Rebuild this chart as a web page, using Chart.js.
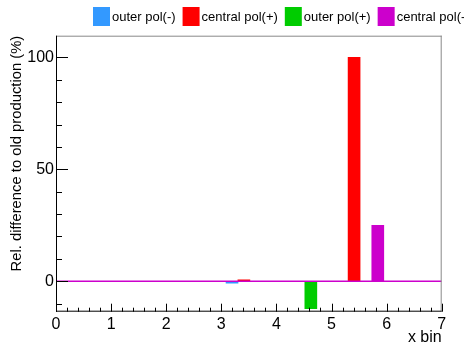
<!DOCTYPE html>
<html>
<head>
<meta charset="utf-8">
<script src="https://cdn.jsdelivr.net/npm/chart.js@4/dist/chart.umd.min.js"></script>
<style>
  html, body { margin: 0; padding: 0; background: #fff; }
  #wrap { width: 464px; height: 347px; }
</style>
</head>
<body>
<div id="wrap"><canvas id="relChart"></canvas></div>
<script>
// bins (lower edges) and relative differences in %
const bins = [0, 1, 2, 3, 4, 5, 6];
const outerMinus   = [0, 0, 0, -0.8, 0, 0, 0];
const centralPlus  = [0, 0, 0, 0.6, 0, 100, 0];
const outerPlus    = [0, 0, 0, 0, -12.3, 0, 0];
const centralMinus = [0, 0, 0, 0, 0, 25, 0];
const seriesLabels = ["outer pol(-)", "central pol(+)", "outer pol(+)", "central pol(-)"];
const seriesColors = ["#3399ff", "#ff0000", "#00cc00", "#cc00cc"];
const xRange = [0, 7];
const yRange = [-13.6, 109.7];

const FONT = "'Liberation Sans', Arial, sans-serif";

function barSet(i, values) {
    return {
        type: "bar",
        label: seriesLabels[i],
        data: bins.map((b, k) => ({ x: b + 0.195 + 0.215 * i, y: values[k] })),
        backgroundColor: seriesColors[i],
        borderWidth: 0,
        barThickness: 12,
        grouped: false
    };
}

// ROOT style inner ticks, frame and legend
const rootStyle = {
    id: "rootStyle",
    afterDatasetsDraw(chart) {
        const { ctx, chartArea: a, scales: { x, y } } = chart;
        ctx.save();
        ctx.strokeStyle = "#000";
        ctx.lineWidth = 1;
        ctx.beginPath();
        x.ticks.forEach(t => {
            const px = Math.round(x.getPixelForValue(t.value)) + 0.5;
            const major = Math.abs(t.value - Math.round(t.value)) < 1e-6;
            ctx.moveTo(px, a.bottom);
            ctx.lineTo(px, a.bottom - (major ? 8 : 4));
        });
        y.ticks.forEach(t => {
            const py = Math.round(y.getPixelForValue(t.value)) + 0.5;
            const major = Math.abs(t.value % 50) < 1e-6;
            ctx.moveTo(a.left, py);
            ctx.lineTo(a.left + (major ? 12 : 6), py);
        });
        ctx.stroke();

        // frame
        ctx.strokeStyle = "#888";
        ctx.beginPath();
        ctx.moveTo(a.left, a.top + 0.5);
        ctx.lineTo(a.right, a.top + 0.5);
        ctx.moveTo(a.right - 0.5, a.top);
        ctx.lineTo(a.right - 0.5, a.bottom);
        ctx.stroke();
        ctx.strokeStyle = "#000";
        ctx.beginPath();
        ctx.moveTo(a.left + 0.5, a.top);
        ctx.lineTo(a.left + 0.5, a.bottom);
        ctx.moveTo(a.left, a.bottom - 0.5);
        ctx.lineTo(a.right, a.bottom - 0.5);
        ctx.stroke();

        // legend
        ctx.font = "13px " + FONT;
        ctx.textBaseline = "middle";
        ctx.fillStyle = "#000";
        let lx = 93;
        chart.data.datasets.forEach(ds => {
            if (ds.type !== "bar") return;
            ctx.fillStyle = ds.backgroundColor;
            ctx.fillRect(lx, 7, 17, 19);
            ctx.fillStyle = "#000";
            ctx.fillText(ds.label, lx + 19, 17);
            lx += 19 + ctx.measureText(ds.label).width + 7;
        });
        ctx.restore();
    }
};

new Chart(document.getElementById("relChart"), {
    data: {
        datasets: [
            {
                type: "line",
                label: "zero",
                data: [{ x: xRange[0], y: 0 }, { x: xRange[1], y: 0 }],
                borderColor: "#cc00cc",
                borderWidth: 1.5,
                pointRadius: 0
            },
            barSet(0, outerMinus),
            barSet(1, centralPlus),
            barSet(2, outerPlus),
            barSet(3, centralMinus)
        ]
    },
    options: {
        responsive: true,
        maintainAspectRatio: false,
        animation: false,
        layout: { padding: { top: 35.7, right: 22.3, left: 0, bottom: 0 } },
        plugins: { legend: { display: false }, tooltip: { enabled: false } },
        scales: {
            x: {
                type: "linear",
                min: xRange[0],
                max: xRange[1],
                offset: false,
                grid: { display: false, drawTicks: false, offset: false },
                border: { display: false },
                ticks: {
                    stepSize: 0.2,
                    autoSkip: false,
                    maxRotation: 0,
                    padding: 3,
                    color: "#000",
                    font: { family: FONT, size: 16 },
                    callback: v => Math.abs(v - Math.round(v)) < 1e-6 ? String(Math.round(v)) : ""
                },
                title: {
                    display: true,
                    text: "x bin",
                    align: "end",
                    color: "#000",
                    font: { family: FONT, size: 16 },
                    padding: { top: -2, bottom: 0 }
                },
                afterFit: s => { s.height = 35.3; }
            },
            y: {
                min: yRange[0],
                max: yRange[1],
                grid: { display: false, drawTicks: false },
                border: { display: false },
                ticks: {
                    stepSize: 10,
                    includeBounds: false,
                    autoSkip: false,
                    padding: 2,
                    color: "#000",
                    font: { family: FONT, size: 16 },
                    callback: v => Math.abs(v % 50) < 1e-6 ? String(v) : ""
                },
                title: {
                    display: true,
                    text: "Rel. difference to old production (%)",
                    align: "end",
                    color: "#000",
                    font: { family: FONT, size: 14.8 },
                    padding: { top: 8, bottom: 0 }
                },
                afterFit: s => { s.width = 56; }
            }
        }
    },
    plugins: [rootStyle]
});
</script>
</body>
</html>
